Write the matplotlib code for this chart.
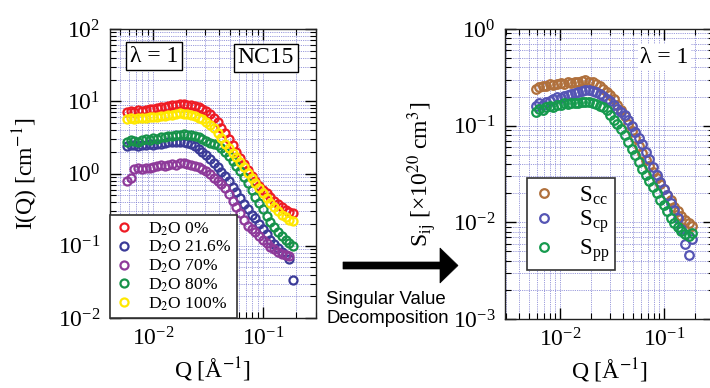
import matplotlib
matplotlib.use("Agg")
import matplotlib.pyplot as plt
import numpy as np
from matplotlib.ticker import LogLocator, NullFormatter
from matplotlib.patches import Polygon

plt.rcParams['font.family'] = ['Liberation Serif', 'DejaVu Serif']
plt.rcParams['mathtext.fontset'] = 'stix'
plt.rcParams['axes.unicode_minus'] = False

# ---------------- data ----------------
Q = [0.00580, 0.00628, 0.00679, 0.00735, 0.00795, 0.00861, 0.00931, 0.01008, 0.01091,
     0.01180, 0.01277, 0.01382, 0.01496, 0.01619, 0.01752, 0.01896, 0.02052, 0.02221,
     0.02403, 0.02601, 0.02815, 0.03046, 0.03297, 0.03568, 0.03861, 0.04178, 0.04522,
     0.04894, 0.05296, 0.05731, 0.06203, 0.06712, 0.07264, 0.07862, 0.08508, 0.09207,
     0.09964, 0.1078, 0.1167, 0.1263, 0.1367, 0.1479, 0.1601, 0.1732, 0.1875]

d2o_0 = [7.0, 7.3, 7.2, 7.5, 7.4, 7.6, 7.9, 7.7, 8.0, 8.3, 8.2, 8.6, 8.8, 8.9, 9.3,
         9.2, 9.0, 8.9, 8.6, 8.3, 7.9, 7.3, 6.6, 5.9, 5.1, 4.3, 3.6, 3.0, 2.45, 2.0,
         1.65, 1.35, 1.12, 0.93, 0.78, 0.68, 0.60, 0.54, 0.47, 0.42, 0.38, 0.34, 0.31,
         0.29, 0.28]
d2o_216 = [2.4, 2.5, 2.45, 2.4, 2.5, 2.5, 2.55, 2.5, 2.6, 2.6, 2.65, 2.7, 2.7, 2.75,
           2.75, 2.7, 2.65, 2.55, 2.4, 2.2, 2.0, 1.8, 1.6, 1.4, 1.22, 1.05, 0.92, 0.79,
           0.66, 0.55, 0.46, 0.38, 0.32, 0.27, 0.24, 0.20, 0.17, 0.145, 0.12, 0.105,
           0.092, 0.082, 0.074, 0.066, 0.034]
d2o_70 = [0.78, 0.86, 1.15, 1.18, 1.15, 1.2, 1.18, 1.22, 1.25, 1.3, 1.25, 1.3, 1.35,
          1.33, 1.38, 1.4, 1.35, 1.33, 1.28, 1.22, 1.15, 1.08, 0.98, 0.88, 0.8, 0.72,
          0.62, 0.52, 0.42, 0.34, 0.28, 0.23, 0.19, 0.17, 0.155, 0.135, 0.12, 0.108,
          0.097, 0.09, 0.082, 0.077, 0.074, 0.072, np.nan]
d2o_80 = [2.7, 2.9, 2.8, 2.7, 2.9, 3.0, 2.9, 3.1, 3.0, 3.2, 3.2, 3.3, 3.3, 3.4, 3.4,
          3.5, 3.4, 3.4, 3.3, 3.2, 3.0, 2.8, 2.65, 2.55, 2.45, 2.25, 2.0, 1.75, 1.5,
          1.28, 1.08, 0.90, 0.74, 0.60, 0.48, 0.39, 0.32, 0.26, 0.21, 0.18, 0.155,
          0.135, 0.12, 0.11, 0.10]
d2o_100 = [5.6, 5.8, 5.7, 5.8, 5.9, 5.8, 6.0, 6.1, 6.0, 6.2, 6.3, 6.4, 6.5, 6.6, 6.8,
           6.7, 6.6, 6.4, 6.2, 5.9, 5.6, 5.2, 4.7, 4.2, 3.6, 3.1, 2.6, 2.25, 1.95,
           1.7, 1.45, 1.22, 1.02, 0.86, 0.73, 0.63, 0.54, 0.46, 0.39, 0.34, 0.30,
           0.27, 0.25, 0.23, 0.22]

s_cc = [0.24, 0.25, 0.255, 0.26, 0.27, 0.265, 0.27, 0.275, 0.27, 0.28, 0.275, 0.28,
        0.285, 0.29, 0.295, 0.285, 0.28, 0.27, 0.255, 0.24, 0.225, 0.21, 0.19, 0.165,
        0.145, 0.125, 0.105, 0.088, 0.074, 0.062, 0.052, 0.044, 0.038, 0.033, 0.029,
        0.025, 0.022, 0.019, 0.017, 0.0145, 0.013, 0.0115, 0.0105, 0.0098, 0.0092]
s_cp = [0.16, 0.17, 0.165, 0.175, 0.18, 0.19, 0.2, 0.195, 0.205, 0.21, 0.215, 0.22,
        0.225, 0.23, 0.235, 0.235, 0.23, 0.225, 0.215, 0.205, 0.19, 0.18, 0.165, 0.15,
        0.14, 0.13, 0.115, 0.1, 0.086, 0.075, 0.064, 0.054, 0.045, 0.037, 0.031,
        0.026, 0.022, 0.019, 0.016, 0.0135, 0.011, 0.0085, 0.006, 0.0046, 0.0068]
s_pp = [0.14, 0.15, 0.145, 0.155, 0.16, 0.155, 0.165, 0.165, 0.17, 0.168, 0.17, 0.172,
        0.172, 0.175, 0.177, 0.175, 0.172, 0.168, 0.16, 0.155, 0.145, 0.13, 0.115,
        0.103, 0.092, 0.08, 0.068, 0.058, 0.05, 0.042, 0.036, 0.031, 0.027, 0.023,
        0.02, 0.017, 0.015, 0.013, 0.011, 0.0098, 0.009, 0.0082, 0.0075, 0.0072, 0.0078]

left_series = [
    ("D$_2$O 0%", d2o_0, "#ee1c25"),
    ("D$_2$O 21.6%", d2o_216, "#3b3b98"),
    ("D$_2$O 70%", d2o_70, "#8e3a9a"),
    ("D$_2$O 80%", d2o_80, "#17924a"),
    ("D$_2$O 100%", d2o_100, "#ffe800"),
]
right_series = [
    (r"S$_\mathregular{cc}$", s_cc, "#b0703c"),
    (r"S$_\mathregular{cp}$", s_cp, "#5555b4"),
    (r"S$_\mathregular{pp}$", s_pp, "#169a4e"),
]

# ---------------- figure ----------------
W, H = 710, 388
fig = plt.figure(figsize=(W / 100, H / 100), dpi=100)

# overlay for arrow/text (pixel coords)
ov = fig.add_axes([0, 0, 1, 1], zorder=0)
ov.set_xlim(0, W)
ov.set_ylim(H, 0)
ov.axis("off")

axL = fig.add_axes([110 / W, (H - 318) / H, 206 / W, 289 / H], zorder=2)
axR = fig.add_axes([505 / W, (H - 319) / H, 209 / W, 290 / H], zorder=2)

grid_col = "#7a7ad0"


def style(ax):
    ax.set_xscale("log")
    ax.set_yscale("log")
    ax.xaxis.set_minor_locator(LogLocator(base=10, subs=np.arange(2, 10), numticks=20))
    ax.yaxis.set_minor_locator(LogLocator(base=10, subs=np.arange(2, 10), numticks=20))
    ax.xaxis.set_minor_formatter(NullFormatter())
    ax.yaxis.set_minor_formatter(NullFormatter())
    ax.tick_params(which="both", direction="in", top=True, right=True,
                   labelsize=17, colors="black")
    ax.tick_params(which="major", length=8, width=1.0, pad=7)
    ax.tick_params(which="minor", length=4, width=0.8)
    ax.grid(True, which="both", color=grid_col, linestyle=(0, (1, 1.2)), linewidth=0.6)
    ax.set_axisbelow(True)
    for s in ax.spines.values():
        s.set_linewidth(1.0)
        s.set_color("#222222")


style(axL)
style(axR)

for lab, vals, col in left_series:
    axL.plot(Q, vals, linestyle="none", marker="o", ms=5.8, mfc="none",
             mec=col, mew=1.6, label=lab)
axL.set_xlim(0.00407, 0.303)
axL.set_ylim(1e-2, 1e2)
axL.set_xlabel("Q [Å$^{-1}$]", fontsize=17, labelpad=3)
axL.set_ylabel("I(Q) [cm$^{-1}$]", fontsize=17, labelpad=12)

legL = axL.legend(loc="lower left", bbox_to_anchor=(0.0, 0.0), borderaxespad=0,
                  fontsize=12.6, frameon=True, fancybox=False, framealpha=1,
                  edgecolor="#333333", handlelength=1.0, handletextpad=0.9,
                  labelspacing=0.08, borderpad=0.3)
legL.get_frame().set_linewidth(1.2)

axL.text(0.214, 0.905, "λ = 1", transform=axL.transAxes, fontsize=17,
         ha="center", va="center",
         bbox=dict(boxstyle="square,pad=0.15", fc="white", ec="black", lw=1.0))
axL.text(0.757, 0.900, "NC15", transform=axL.transAxes, fontsize=17,
         ha="center", va="center",
         bbox=dict(boxstyle="square,pad=0.15", fc="white", ec="black", lw=1.0))

for lab, vals, col in right_series:
    axR.plot(Q, vals, linestyle="none", marker="o", ms=6.2, mfc="none",
             mec=col, mew=1.6, label=lab)
axR.set_xlim(0.00293, 0.305)
axR.set_ylim(1e-3, 1e0)
axR.set_xlabel("Q [Å$^{-1}$]", fontsize=17, labelpad=3)
axR.set_ylabel(r"S$_\mathregular{ij}$ [×10$^{20}$ cm$^3$]", fontsize=17, labelpad=10)

legR = axR.legend(loc="upper left", bbox_to_anchor=(0.105, 0.486), borderaxespad=0,
                  fontsize=16.5, frameon=True, fancybox=False, framealpha=1,
                  edgecolor="#333333", handlelength=1.0, handletextpad=1.0,
                  labelspacing=0.12, borderpad=0.25)
legR.get_frame().set_linewidth(1.2)

axR.text(0.764, 0.903, "λ = 1", transform=axR.transAxes, fontsize=17,
         ha="center", va="center",
         bbox=dict(boxstyle="square,pad=0.1", fc="white", ec="none"))

# arrow between panels
arrow = Polygon([[343, 262], [440, 262], [440, 248], [458, 265.5],
                 [440, 283], [440, 269], [343, 269]],
                closed=True, fc="black", ec="black", lw=0.5)
ov.add_patch(arrow)
ov.text(326, 309, "Singular Value\nDecomposition", fontsize=13.4,
        family=["Liberation Sans", "DejaVu Sans"], ha="left", va="center",
        linespacing=1.22)

fig.savefig("out.png", dpi=100)
